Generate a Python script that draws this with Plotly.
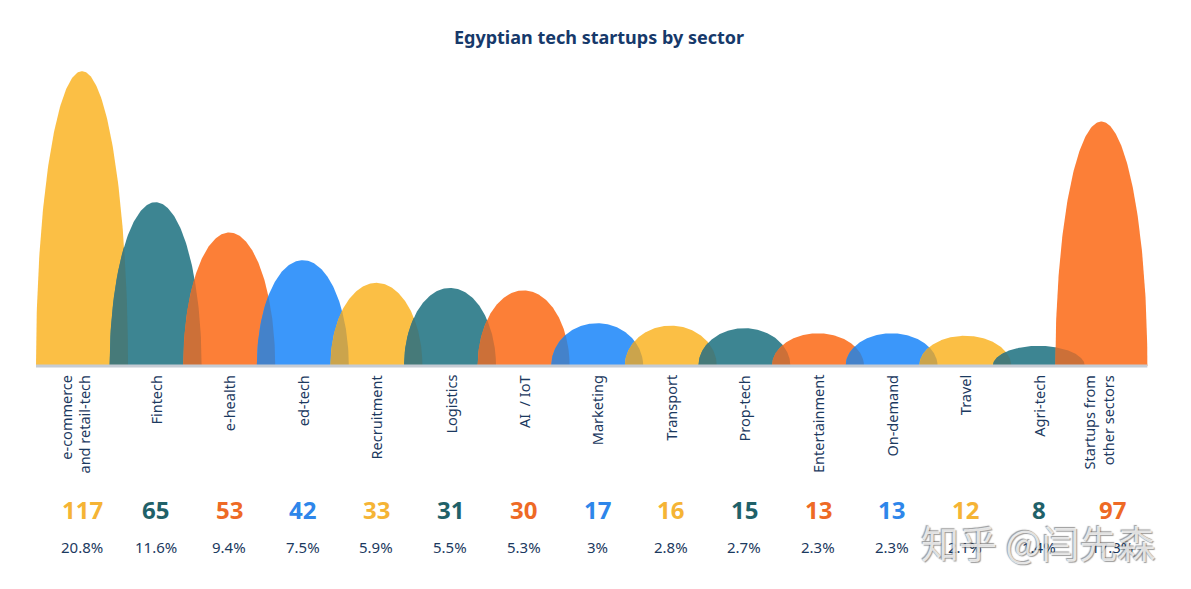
import numpy as np
import plotly.graph_objects as go

# ---------------- data ----------------
sectors = ["e-commerce<br>and retail-tech", "Fintech", "e-health", "ed-tech", "Recruitment",
           "Logistics", "AI  / IoT", "Marketing", "Transport", "Prop-tech", "Entertainment",
           "On-demand", "Travel", "Agri-tech", "Startups from<br>other sectors"]
counts = [117, 65, 53, 42, 33, 31, 30, 17, 16, 15, 13, 13, 12, 8, 97]
shares = ["20.8%", "11.6%", "9.4%", "7.5%", "5.9%", "5.5%", "5.3%", "3%", "2.8%", "2.7%",
          "2.3%", "2.3%", "2.1%", "1.4%", "17.3%"]
title_text = "Egyptian tech startups by sector"
watermark = "知乎 @闫先森"

# ---------------- style ----------------
OFF = 8  # page margin offset
W, H = 1191 - OFF, 589 - OFF
arch_cols = ["#FBBF45", "#3D8592", "#FC7F37", "#3B97FA"]
num_cols = ["#F5B435", "#1F6169", "#EE6A25", "#2E86EA"]
navy = "#1B3960"
step_px = 73.6
x0_px = 82.0 - OFF
base_px = 366.0 - OFF
unit_px = 2.52


def py(p):
    return 1 - (p - OFF) / H


xr = [-x0_px / step_px, (W - x0_px) / step_px]
yr = [-(H - base_px) / unit_px, base_px / unit_px]


def hexrgb(h):
    h = h.lstrip("#")
    return np.array([int(h[i:i + 2], 16) for i in (0, 2, 4)], dtype=float)


def arch_profile(n=160):
    th = np.linspace(np.pi, 0, n)
    return np.cos(th), np.sin(th)


px_, py_ = arch_profile()
n = len(counts)
centers = [i - (0.15 if i == n - 1 else 0.0) for i in range(n)]
halfw = [46 / step_px for i in range(n)]


def arch_y(i, x):
    return np.interp(x, centers[i] + halfw[i] * px_, counts[i] * py_, left=0, right=0)


fig = go.Figure()
for i in range(n):
    col = arch_cols[i % 4]
    fig.add_trace(go.Scatter(x=centers[i] + halfw[i] * px_, y=counts[i] * py_, mode="lines",
                             fill="toself", fillcolor=col, line=dict(width=0, color=col),
                             hoverinfo="skip", showlegend=False))
    if i > 0:
        lo = centers[i] - halfw[i]
        hi = centers[i - 1] + halfw[i - 1]
        if hi > lo:
            xs = np.linspace(lo, hi, 80)
            ys = np.minimum(arch_y(i, xs), arch_y(i - 1, xs))
            top = hexrgb(arch_cols[i % 4])
            bot = hexrgb(arch_cols[(i - 1) % 4])
            mix = (0.9 * top + 0.1 * bot) * 0.88
            mc = "rgb(%d,%d,%d)" % tuple(mix.astype(int))
            fig.add_trace(go.Scatter(x=np.concatenate([xs, [hi, lo]]),
                                     y=np.concatenate([ys, [0, 0]]), mode="lines",
                                     fill="toself", fillcolor=mc, line=dict(width=0, color=mc),
                                     hoverinfo="skip", showlegend=False))

# baseline
fig.add_shape(type="line", x0=centers[0] - halfw[0], x1=centers[-1] + halfw[-1], y0=0, y1=0,
              line=dict(color="#C6CCD4", width=3), layer="above")

annotations = []
for i in range(n):
    xs_shift = 0
    if i == 0:
        xs_shift = -7
    elif i == n - 1:
        xs_shift = -14
    annotations.append(dict(x=i, y=py(373), xref="x", yref="paper", text=sectors[i],
                            textangle=-90, xanchor="center", yanchor="top", align="right",
                            showarrow=False, xshift=xs_shift,
                            font=dict(family="Noto Sans", size=14.5, color=navy)))
    annotations.append(dict(x=i, y=py(509), xref="x", yref="paper", text=str(counts[i]),
                            xanchor="center", yanchor="middle", showarrow=False,
                            font=dict(family="Open Sans", size=24, color=num_cols[i % 4],
                                      weight=700)))
    annotations.append(dict(x=i, y=py(547), xref="x", yref="paper", text=shares[i],
                            xanchor="center", yanchor="middle", showarrow=False,
                            font=dict(family="Noto Sans", size=15, color=navy)))

annotations.append(dict(x=(1038 - OFF) / W, y=py(541), xref="paper", yref="paper", text=watermark,
                        xanchor="center", yanchor="middle", showarrow=False,
                        font=dict(family="Noto Sans CJK SC", size=38,
                                  color="rgba(245,245,245,0.85)",
                                  shadow="1px 1px 1px rgba(60,60,60,0.6), -1px -1px 1px rgba(60,60,60,0.6)")))

fig.update_layout(
    width=W, height=H,
    margin=dict(l=0, r=0, t=0, b=0),
    paper_bgcolor="white", plot_bgcolor="white",
    title=dict(text=title_text, x=(599 - OFF) / W, xanchor="center", y=py(38), yanchor="middle",
               font=dict(family="Noto Sans", size=18, color="#16396A", weight=700)),
    xaxis=dict(range=xr, visible=False, fixedrange=True),
    yaxis=dict(range=yr, visible=False, fixedrange=True),
    annotations=annotations,
    showlegend=False,
)

fig.write_html("out.html")
